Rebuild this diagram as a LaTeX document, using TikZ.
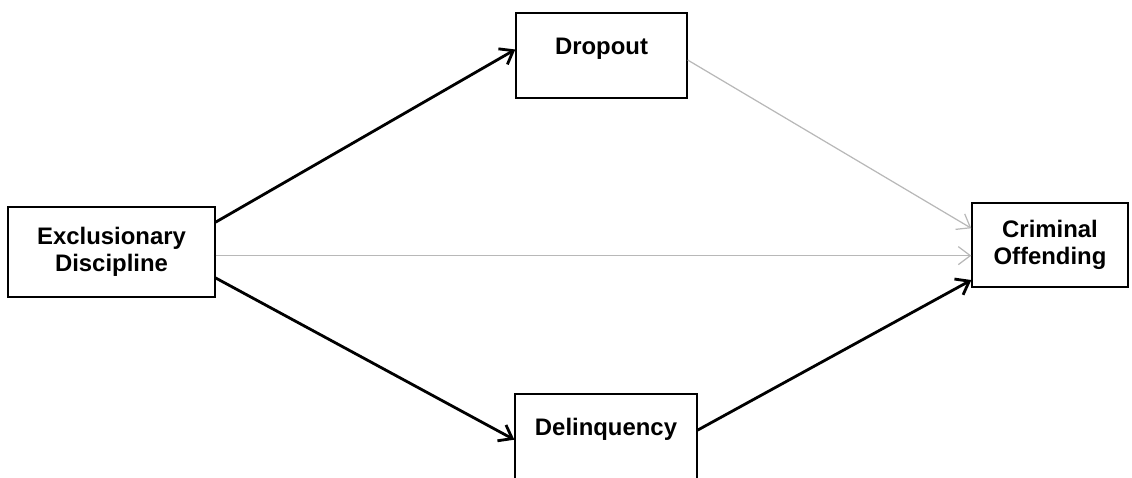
\documentclass[tikz,border=0pt]{standalone}
\usepackage{fontspec}
\setmainfont{Liberation Sans}
\usetikzlibrary{arrows.meta}

\begin{document}
\begin{tikzpicture}[x=0.02cm, y=-0.02cm,
    box/.style={draw, line width=0.8pt, align=center, inner sep=0pt,
      font=\fontsize{13.6}{15.5}\selectfont\bfseries},
    topbox/.style={box, text height=0.35cm, text depth=0.41cm},
    strong/.style={line width=1.6pt, -{Straight Barb[length=0.24cm, width=0.36cm]}},
    weak/.style={line width=0.7pt, black!28, -{Straight Barb[length=0.24cm, width=0.36cm]}}
  ]
    \useasboundingbox (0,0) rectangle (1132,477);

    % variables
    \node[box, minimum width=4.14cm, minimum height=1.8cm] (excl) at (111.5,252) {Exclusionary\\Discipline};
    \node[topbox, minimum width=3.42cm, minimum height=1.7cm] (drop) at (601.5,55.5) {Dropout};
    \node[topbox, minimum width=3.64cm, minimum height=1.7cm] (deli) at (606,436.5) {Delinquency};
    \node[box, minimum width=3.12cm, minimum height=1.68cm] (crim) at (1050,245) {Criminal\\Offending};

    % paths
    \draw[strong] (excl.16) -- (drop.176);
    \draw[strong] (excl.-14) -- (deli.182);
    \draw[strong] (deli.4) -- (crim.204);
    \draw[weak] (drop.-3) -- (crim.168);
    \draw[weak] (excl.-2) -- (excl.-2 -| crim.west);
\end{tikzpicture}
\end{document}
